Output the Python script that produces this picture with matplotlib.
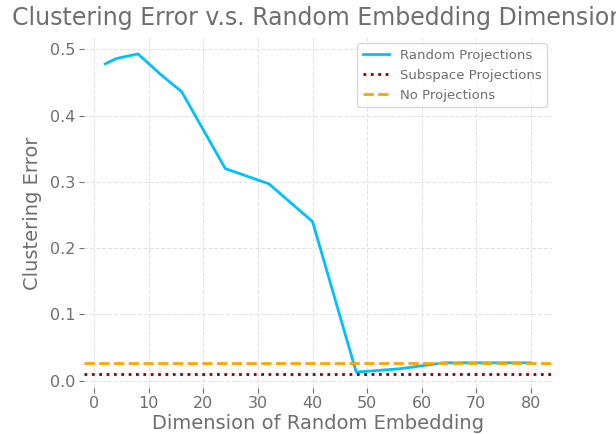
import matplotlib.pyplot as plt

dims = [2, 4, 8, 12, 16, 24, 32, 40, 48, 56, 64, 72, 80]
random_err = [0.478, 0.486, 0.493, 0.463, 0.436, 0.320, 0.297, 0.240, 0.013, 0.018, 0.027, 0.027, 0.027]
subspace_err = 0.010
no_proj_err = 0.027

text_color = "#6e6e6e"

plt.rcParams["font.family"] = "DejaVu Sans"
plt.rcParams["text.color"] = text_color
plt.rcParams["axes.labelcolor"] = text_color
plt.rcParams["xtick.color"] = text_color
plt.rcParams["ytick.color"] = text_color

fig = plt.figure(figsize=(6.16, 4.34), dpi=100)
ax = fig.add_axes([84 / 616, 1 - 388 / 434, (552 - 84) / 616, (388 - 38) / 434])

ax.plot(dims, random_err, color="#00BFFF", linewidth=2, label="Random Projections")
ax.axhline(subspace_err, color="#8B0000", linestyle=":", linewidth=2, label="Subspace Projections")
ax.axhline(no_proj_err, color="orange", linestyle="--", linewidth=2, label="No Projections")

for side in ["top", "right", "bottom", "left"]:
    ax.spines[side].set_visible(False)

ax.grid(True, linestyle="--", color="#e3e3e3", linewidth=0.8)
ax.set_axisbelow(True)
ax.tick_params(labelsize=11.5, length=3.5, pad=2.5, color="#6e6e6e")

ax.set_xticks([0, 10, 20, 30, 40, 50, 60, 70, 80])
ax.set_yticks([0.0, 0.1, 0.2, 0.3, 0.4, 0.5])

ax.set_xlabel("Dimension of Random Embedding", fontsize=14, labelpad=2)
ax.set_ylabel("Clustering Error", fontsize=14, labelpad=6)
ax.set_title("Clustering Error v.s. Random Embedding Dimension", fontsize=17, pad=9)

leg = ax.legend(loc="upper right", fontsize=9.5, frameon=True, fancybox=True,
                borderaxespad=0.4, labelspacing=0.55)
leg.get_frame().set_edgecolor("#d0d0d0")
for t in leg.get_texts():
    t.set_color(text_color)

fig.savefig("out.png", dpi=100)
